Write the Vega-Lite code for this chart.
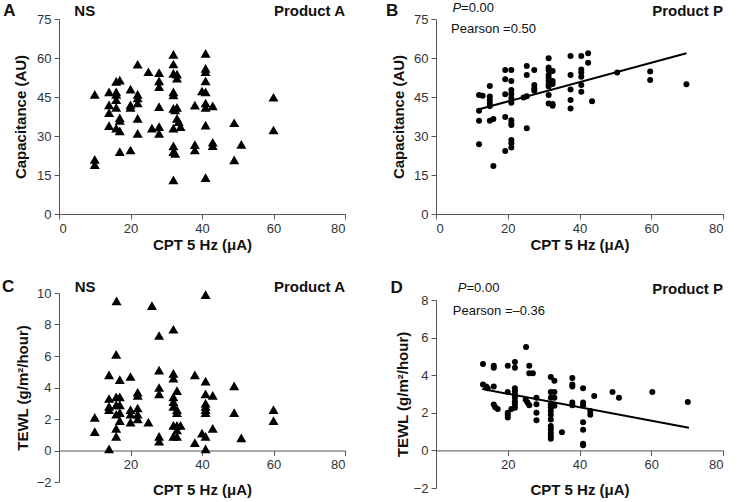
{
  "$schema": "https://vega.github.io/schema/vega-lite/v6.json",
  "padding": {"left": 2, "top": 2, "right": 0, "bottom": 0},
  "background": "white",
  "config": {
    "font": "Liberation Sans",
    "view": {"stroke": null},
    "axis": {"labelFontSize": 13, "labelColor": "#333", "titleFontSize": 15, "titleFontWeight": "bold", "titleColor": "#111", "domainColor": "#555", "tickColor": "#555", "tickSize": 5, "labelPadding": 3, "grid": false, "labelFont": "Liberation Sans", "titleFont": "Liberation Sans", "labelOverlap": false},
    "text": {"font": "Liberation Sans", "color": "#111", "baseline": "middle"}
  },
  "datasets": {
    "A": [
      {"x":10,"y":46},{"x":10,"y":21},{"x":10,"y":19},{"x":14,"y":47},{"x":14,"y":42},{"x":14,"y":39},{"x":14,"y":34},{"x":16,"y":51},{"x":17,"y":51.5},{"x":16,"y":47},{"x":16,"y":46},{"x":16,"y":44},{"x":16,"y":41},{"x":17,"y":37},{"x":17,"y":36},{"x":16,"y":33},{"x":17,"y":32},{"x":17,"y":24},{"x":20,"y":24.6},{"x":20,"y":48},{"x":20,"y":42},{"x":20,"y":41},{"x":22,"y":57.6},{"x":22,"y":46},{"x":22,"y":44.6},{"x":22,"y":42.7},{"x":22,"y":36.8},{"x":22,"y":31},{"x":25,"y":54.7},{"x":26,"y":33},{"x":28,"y":54.4},{"x":28,"y":51.2},{"x":28,"y":49},{"x":28,"y":41.3},{"x":28,"y":33.6},{"x":28,"y":31},{"x":32,"y":61.4},{"x":32,"y":57.7},{"x":32,"y":54.1},{"x":33,"y":53.8},{"x":33,"y":52.2},{"x":32,"y":47},{"x":32,"y":45.8},{"x":32,"y":40.6},{"x":32.5,"y":40},{"x":33,"y":41},{"x":33,"y":36.8},{"x":33.5,"y":35.5},{"x":34,"y":33.6},{"x":32,"y":33},{"x":32,"y":26.2},{"x":32,"y":24},{"x":32.5,"y":23.3},{"x":32,"y":13.1},{"x":38,"y":41.9},{"x":38,"y":26.7},{"x":38,"y":24.6},{"x":40,"y":47.3},{"x":41,"y":61.8},{"x":41,"y":56},{"x":41,"y":54.7},{"x":41,"y":51.2},{"x":41,"y":47},{"x":41,"y":42.7},{"x":41,"y":41},{"x":43,"y":41.6},{"x":41,"y":34.2},{"x":41,"y":14},{"x":43,"y":27.6},{"x":43,"y":26.3},{"x":49,"y":35.1},{"x":49,"y":20.8},{"x":51,"y":26.8},{"x":60,"y":44.9},{"x":60,"y":32.3}
    ],
    "B": [
      {"x":12,"y":45.8},{"x":13,"y":45.5},{"x":12,"y":39.7},{"x":12,"y":35.9},{"x":12,"y":26.8},{"x":15,"y":49.2},{"x":15,"y":45.2},{"x":15,"y":43.8},{"x":15,"y":42.5},{"x":15,"y":41.5},{"x":15,"y":35.9},{"x":16,"y":36.5},{"x":16,"y":18.5},{"x":19.3,"y":55.4},{"x":19.3,"y":51.8},{"x":19.3,"y":46.1},{"x":19.3,"y":37.3},{"x":19.3,"y":24.2},{"x":21,"y":55.4},{"x":21,"y":51.2},{"x":21,"y":47.7},{"x":21,"y":46.2},{"x":21,"y":44.5},{"x":21,"y":42.8},{"x":21,"y":36.1},{"x":21,"y":34.8},{"x":21,"y":34.2},{"x":21,"y":28.5},{"x":21,"y":27.2},{"x":21,"y":25.6},{"x":24.4,"y":44.8},{"x":25.3,"y":45.3},{"x":25.3,"y":56.9},{"x":25.3,"y":53.5},{"x":27.4,"y":55.4},{"x":25.3,"y":33},{"x":27.4,"y":49.6},{"x":27.4,"y":48.3},{"x":27.4,"y":47.4},{"x":31.4,"y":59.9},{"x":31.4,"y":56.3},{"x":31.4,"y":55.4},{"x":32.5,"y":55},{"x":31.4,"y":53.5},{"x":31.4,"y":52.3},{"x":31.4,"y":51.2},{"x":32.5,"y":51.2},{"x":31.4,"y":49.9},{"x":32.5,"y":50},{"x":31.4,"y":49},{"x":31.4,"y":45.8},{"x":31.4,"y":42.5},{"x":32.5,"y":42.3},{"x":32.5,"y":41.6},{"x":37.5,"y":60.8},{"x":37.5,"y":53.5},{"x":37.5,"y":47.9},{"x":37.5,"y":43.8},{"x":37.5,"y":40.6},{"x":40.5,"y":60.8},{"x":40.5,"y":55.6},{"x":40.5,"y":54.4},{"x":40.5,"y":52.8},{"x":40.5,"y":49.6},{"x":40.5,"y":47},{"x":42.4,"y":61.8},{"x":42.4,"y":58.2},{"x":43.5,"y":43.4},{"x":50.5,"y":54.4},{"x":59.7,"y":54.8},{"x":59.7,"y":51.5},{"x":69.8,"y":49.9}
    ],
    "C": [
      {"x":16.1,"y":9.5},{"x":26,"y":9.2},{"x":41,"y":9.9},{"x":32,"y":7.7},{"x":28,"y":7.3},{"x":16,"y":6.1},{"x":14,"y":4.8},{"x":17,"y":4.5},{"x":20,"y":4.7},{"x":28,"y":5.1},{"x":32,"y":4.9},{"x":32,"y":4.6},{"x":38,"y":4.8},{"x":41,"y":4.4},{"x":49,"y":4.1},{"x":28,"y":4.0},{"x":28,"y":3.6},{"x":33,"y":3.8},{"x":41,"y":3.6},{"x":43,"y":3.5},{"x":22,"y":3.7},{"x":22,"y":3.5},{"x":14,"y":3.3},{"x":16,"y":3.4},{"x":17,"y":3.4},{"x":32,"y":3.4},{"x":32,"y":3.1},{"x":14,"y":2.8},{"x":16,"y":2.9},{"x":17,"y":2.9},{"x":14,"y":2.6},{"x":17,"y":2.4},{"x":16,"y":2.3},{"x":20,"y":2.6},{"x":20,"y":2.3},{"x":22,"y":2.7},{"x":22,"y":2.3},{"x":22,"y":2.0},{"x":20,"y":1.8},{"x":25,"y":1.8},{"x":32,"y":2.8},{"x":33,"y":2.6},{"x":33,"y":2.4},{"x":41,"y":3.0},{"x":41,"y":2.8},{"x":41,"y":2.6},{"x":41,"y":2.4},{"x":49,"y":2.4},{"x":60,"y":2.6},{"x":60,"y":1.9},{"x":10,"y":2.1},{"x":10,"y":1.2},{"x":17,"y":1.9},{"x":16,"y":1.4},{"x":16,"y":0.9},{"x":32,"y":1.6},{"x":33,"y":1.6},{"x":34,"y":1.6},{"x":33,"y":1.3},{"x":33,"y":0.9},{"x":32,"y":0.9},{"x":28,"y":0.9},{"x":28,"y":0.6},{"x":40,"y":1.1},{"x":41,"y":0.9},{"x":43,"y":1.4},{"x":38,"y":0.5},{"x":51,"y":0.8},{"x":14,"y":0.1},{"x":41,"y":0.1}
    ],
    "D": [
      {"x":13.1,"y":4.6},{"x":16.1,"y":4.5},{"x":16.1,"y":4.4},{"x":13.1,"y":3.5},{"x":14,"y":3.4},{"x":14.4,"y":3.3},{"x":16.1,"y":3.4},{"x":16.1,"y":2.44},{"x":16.5,"y":2.3},{"x":17.2,"y":2.2},{"x":20,"y":4.5},{"x":20,"y":3.1},{"x":20,"y":2.0},{"x":20,"y":1.9},{"x":20,"y":1.75},{"x":22,"y":4.7},{"x":22,"y":4.4},{"x":22,"y":3.3},{"x":22,"y":3.15},{"x":22,"y":2.97},{"x":22,"y":2.8},{"x":22,"y":2.6},{"x":22,"y":2.45},{"x":22,"y":2.27},{"x":21,"y":2.2},{"x":25.1,"y":5.5},{"x":26,"y":4.5},{"x":26,"y":4.1},{"x":27,"y":4.1},{"x":25,"y":2.7},{"x":25.5,"y":2.55},{"x":26,"y":2.4},{"x":28,"y":2.8},{"x":28,"y":2.45},{"x":28,"y":2.0},{"x":28,"y":1.6},{"x":32,"y":3.9},{"x":33,"y":3.7},{"x":32,"y":3.1},{"x":33,"y":3.1},{"x":32,"y":2.8},{"x":33,"y":2.8},{"x":32,"y":2.45},{"x":32,"y":2.3},{"x":33,"y":2.37},{"x":32,"y":2.1},{"x":32,"y":1.9},{"x":32,"y":1.65},{"x":32,"y":1.3},{"x":32,"y":1.12},{"x":32,"y":0.94},{"x":32,"y":0.76},{"x":32,"y":0.62},{"x":35.1,"y":0.97},{"x":38,"y":3.85},{"x":38,"y":3.5},{"x":38,"y":3.4},{"x":38,"y":2.55},{"x":38,"y":2.4},{"x":41,"y":3.3},{"x":41,"y":2.55},{"x":41,"y":2.4},{"x":41,"y":1.5},{"x":41,"y":1.1},{"x":41,"y":0.35},{"x":41,"y":0.27},{"x":43,"y":2.1},{"x":43,"y":1.9},{"x":44.1,"y":2.9},{"x":49.2,"y":3.1},{"x":51,"y":2.8},{"x":60.3,"y":3.1},{"x":70.2,"y":2.58}
    ],
    "lineB": [{"x":12,"y":40.3},{"x":69.8,"y":61.8}],
    "lineD": [{"x":12.9,"y":3.27},{"x":70.5,"y":1.2}],
    "one": [{}]
  },
  "spacing": 40,
  "hconcat": [
    {
      "spacing": 79,
      "bounds": "flush",
      "vconcat": [
        {
          "width": 286, "height": 195,
          "layer": [
            {"data": {"name": "A"},
             "mark": {"type": "point", "shape": "triangle-up", "filled": true, "color": "#000", "size": 100, "opacity": 1},
             "encoding": {
               "x": {"field": "x", "type": "quantitative", "scale": {"domain": [0, 80], "nice": false, "zero": false}, "axis": {"values": [0, 20, 40, 60, 80], "title": "CPT 5 Hz (μA)", "titlePadding": 2}},
               "y": {"field": "y", "type": "quantitative", "scale": {"domain": [0, 75], "nice": false, "zero": false}, "axis": {"values": [0, 15, 30, 45, 60, 75], "title": "Capacitance (AU)", "titlePadding": 8}}
             }},
            {"data": {"name": "one"}, "mark": {"type": "text", "text": "A", "fontSize": 17, "fontWeight": "bold", "align": "center"}, "encoding": {"x": {"datum": -13.9, "axis": {"values": [0, 20, 40, 60, 80], "title": "CPT 5 Hz (μA)", "titlePadding": 2}}, "y": {"datum": 78, "axis": {"values": [0, 15, 30, 45, 60, 75], "title": "Capacitance (AU)", "titlePadding": 8}}}},
            {"data": {"name": "one"}, "mark": {"type": "text", "text": "NS", "fontSize": 15, "fontWeight": "bold", "align": "center"}, "encoding": {"x": {"datum": 7.2, "axis": {"values": [0, 20, 40, 60, 80], "title": "CPT 5 Hz (μA)", "titlePadding": 2}}, "y": {"datum": 78, "axis": {"values": [0, 15, 30, 45, 60, 75], "title": "Capacitance (AU)", "titlePadding": 8}}}},
            {"data": {"name": "one"}, "mark": {"type": "text", "text": "Product A", "fontSize": 15, "fontWeight": "bold", "align": "right"}, "encoding": {"x": {"datum": 80, "axis": {"values": [0, 20, 40, 60, 80], "title": "CPT 5 Hz (μA)", "titlePadding": 2}}, "y": {"datum": 78, "axis": {"values": [0, 15, 30, 45, 60, 75], "title": "Capacitance (AU)", "titlePadding": 8}}}}
          ]
        },
        {
          "width": 286, "height": 189,
          "layer": [
            {"data": {"name": "C"},
             "mark": {"type": "point", "shape": "triangle-up", "filled": true, "color": "#000", "size": 100, "opacity": 1},
             "encoding": {
               "x": {"field": "x", "type": "quantitative", "scale": {"domain": [0, 80], "nice": false, "zero": false}, "axis": {"values": [20, 40, 60, 80], "title": "CPT 5 Hz (μA)", "offset": -31.5, "titlePadding": 11}},
               "y": {"field": "y", "type": "quantitative", "scale": {"domain": [-2, 10], "nice": false, "zero": false}, "axis": {"values": [-2, 0, 2, 4, 6, 8, 10], "title": "TEWL (g/m²/hour)", "titlePadding": 6}}
             }},
            {"data": {"name": "one"}, "mark": {"type": "text", "text": "C", "fontSize": 17, "fontWeight": "bold", "align": "center"}, "encoding": {"x": {"datum": -14.2, "axis": {"values": [20, 40, 60, 80], "title": "CPT 5 Hz (μA)", "offset": -31.5, "titlePadding": 11}}, "y": {"datum": 10.35, "axis": {"values": [-2, 0, 2, 4, 6, 8, 10], "title": "TEWL (g/m²/hour)", "titlePadding": 6}}}},
            {"data": {"name": "one"}, "mark": {"type": "text", "text": "NS", "fontSize": 15, "fontWeight": "bold", "align": "center"}, "encoding": {"x": {"datum": 7.3, "axis": {"values": [20, 40, 60, 80], "title": "CPT 5 Hz (μA)", "offset": -31.5, "titlePadding": 11}}, "y": {"datum": 10.35, "axis": {"values": [-2, 0, 2, 4, 6, 8, 10], "title": "TEWL (g/m²/hour)", "titlePadding": 6}}}},
            {"data": {"name": "one"}, "mark": {"type": "text", "text": "Product A", "fontSize": 15, "fontWeight": "bold", "align": "right"}, "encoding": {"x": {"datum": 80, "axis": {"values": [20, 40, 60, 80], "title": "CPT 5 Hz (μA)", "offset": -31.5, "titlePadding": 11}}, "y": {"datum": 10.35, "axis": {"values": [-2, 0, 2, 4, 6, 8, 10], "title": "TEWL (g/m²/hour)", "titlePadding": 6}}}}
          ]
        }
      ]
    },
    {
      "spacing": 86,
      "bounds": "flush",
      "vconcat": [
        {
          "width": 287, "height": 195,
          "layer": [
            {"data": {"name": "B"},
             "mark": {"type": "point", "shape": "circle", "filled": true, "color": "#000", "size": 36, "opacity": 1},
             "encoding": {
               "x": {"field": "x", "type": "quantitative", "scale": {"domain": [0, 80], "nice": false, "zero": false}, "axis": {"values": [0, 20, 40, 60, 80], "title": "CPT 5 Hz (μA)", "titlePadding": 2}},
               "y": {"field": "y", "type": "quantitative", "scale": {"domain": [0, 75], "nice": false, "zero": false}, "axis": {"values": [0, 15, 30, 45, 60, 75], "title": "Capacitance (AU)", "titlePadding": 7}}
             }},
            {"data": {"name": "lineB"}, "mark": {"type": "line", "color": "#000", "strokeWidth": 2}, "encoding": {"x": {"field": "x", "type": "quantitative", "axis": {"values": [0, 20, 40, 60, 80], "title": "CPT 5 Hz (μA)", "titlePadding": 2}}, "y": {"field": "y", "type": "quantitative", "axis": {"values": [0, 15, 30, 45, 60, 75], "title": "Capacitance (AU)", "titlePadding": 7}}}},
            {"data": {"name": "one"}, "mark": {"type": "text", "text": "B", "fontSize": 17, "fontWeight": "bold", "align": "center"}, "encoding": {"x": {"datum": -12.2, "axis": {"values": [0, 20, 40, 60, 80], "title": "CPT 5 Hz (μA)", "titlePadding": 2}}, "y": {"datum": 78, "axis": {"values": [0, 15, 30, 45, 60, 75], "title": "Capacitance (AU)", "titlePadding": 7}}}},
            {"data": {"name": "one"}, "mark": {"type": "text", "text": "P", "fontSize": 13, "fontStyle": "italic", "align": "right"}, "encoding": {"x": {"datum": 7.0, "axis": {"values": [0, 20, 40, 60, 80], "title": "CPT 5 Hz (μA)", "titlePadding": 2}}, "y": {"datum": 79.2, "axis": {"values": [0, 15, 30, 45, 60, 75], "title": "Capacitance (AU)", "titlePadding": 7}}}},
            {"data": {"name": "one"}, "mark": {"type": "text", "text": "=0.00", "fontSize": 13, "align": "left"}, "encoding": {"x": {"datum": 7.0, "axis": {"values": [0, 20, 40, 60, 80], "title": "CPT 5 Hz (μA)", "titlePadding": 2}}, "y": {"datum": 79.2, "axis": {"values": [0, 15, 30, 45, 60, 75], "title": "Capacitance (AU)", "titlePadding": 7}}}},
            {"data": {"name": "one"}, "mark": {"type": "text", "text": "Pearson =0.50", "fontSize": 13, "align": "left"}, "encoding": {"x": {"datum": 4.2, "axis": {"values": [0, 20, 40, 60, 80], "title": "CPT 5 Hz (μA)", "titlePadding": 2}}, "y": {"datum": 71.2, "axis": {"values": [0, 15, 30, 45, 60, 75], "title": "Capacitance (AU)", "titlePadding": 7}}}},
            {"data": {"name": "one"}, "mark": {"type": "text", "text": "Product P", "fontSize": 15, "fontWeight": "bold", "align": "right"}, "encoding": {"x": {"datum": 80, "axis": {"values": [0, 20, 40, 60, 80], "title": "CPT 5 Hz (μA)", "titlePadding": 2}}, "y": {"datum": 78, "axis": {"values": [0, 15, 30, 45, 60, 75], "title": "Capacitance (AU)", "titlePadding": 7}}}}
          ]
        },
        {
          "width": 287, "height": 188,
          "layer": [
            {"data": {"name": "D"},
             "mark": {"type": "point", "shape": "circle", "filled": true, "color": "#000", "size": 36, "opacity": 1},
             "encoding": {
               "x": {"field": "x", "type": "quantitative", "scale": {"domain": [0, 80], "nice": false, "zero": false}, "axis": {"values": [20, 40, 60, 80], "title": "CPT 5 Hz (μA)", "offset": -37.6, "titlePadding": 11}},
               "y": {"field": "y", "type": "quantitative", "scale": {"domain": [-2, 8], "nice": false, "zero": false}, "axis": {"values": [-2, 0, 2, 4, 6, 8], "title": "TEWL (g/m²/hour)", "titlePadding": 3}}
             }},
            {"data": {"name": "lineD"}, "mark": {"type": "line", "color": "#000", "strokeWidth": 2}, "encoding": {"x": {"field": "x", "type": "quantitative", "axis": {"values": [20, 40, 60, 80], "title": "CPT 5 Hz (μA)", "offset": -37.6, "titlePadding": 11}}, "y": {"field": "y", "type": "quantitative", "axis": {"values": [-2, 0, 2, 4, 6, 8], "title": "TEWL (g/m²/hour)", "titlePadding": 3}}}},
            {"data": {"name": "one"}, "mark": {"type": "text", "text": "D", "fontSize": 17, "fontWeight": "bold", "align": "center"}, "encoding": {"x": {"datum": -11, "axis": {"values": [20, 40, 60, 80], "title": "CPT 5 Hz (μA)", "offset": -37.6, "titlePadding": 11}}, "y": {"datum": 8.62, "axis": {"values": [-2, 0, 2, 4, 6, 8], "title": "TEWL (g/m²/hour)", "titlePadding": 3}}}},
            {"data": {"name": "one"}, "mark": {"type": "text", "text": "P", "fontSize": 13, "fontStyle": "italic", "align": "right"}, "encoding": {"x": {"datum": 8.5, "axis": {"values": [20, 40, 60, 80], "title": "CPT 5 Hz (μA)", "offset": -37.6, "titlePadding": 11}}, "y": {"datum": 8.66, "axis": {"values": [-2, 0, 2, 4, 6, 8], "title": "TEWL (g/m²/hour)", "titlePadding": 3}}}},
            {"data": {"name": "one"}, "mark": {"type": "text", "text": "=0.00", "fontSize": 13, "align": "left"}, "encoding": {"x": {"datum": 8.5, "axis": {"values": [20, 40, 60, 80], "title": "CPT 5 Hz (μA)", "offset": -37.6, "titlePadding": 11}}, "y": {"datum": 8.66, "axis": {"values": [-2, 0, 2, 4, 6, 8], "title": "TEWL (g/m²/hour)", "titlePadding": 3}}}},
            {"data": {"name": "one"}, "mark": {"type": "text", "text": "Pearson =–0.36", "fontSize": 13, "align": "left"}, "encoding": {"x": {"datum": 4.7, "axis": {"values": [20, 40, 60, 80], "title": "CPT 5 Hz (μA)", "offset": -37.6, "titlePadding": 11}}, "y": {"datum": 7.43, "axis": {"values": [-2, 0, 2, 4, 6, 8], "title": "TEWL (g/m²/hour)", "titlePadding": 3}}}},
            {"data": {"name": "one"}, "mark": {"type": "text", "text": "Product P", "fontSize": 15, "fontWeight": "bold", "align": "right"}, "encoding": {"x": {"datum": 80, "axis": {"values": [20, 40, 60, 80], "title": "CPT 5 Hz (μA)", "offset": -37.6, "titlePadding": 11}}, "y": {"datum": 8.6, "axis": {"values": [-2, 0, 2, 4, 6, 8], "title": "TEWL (g/m²/hour)", "titlePadding": 3}}}}
          ]
        }
      ]
    }
  ]
}
